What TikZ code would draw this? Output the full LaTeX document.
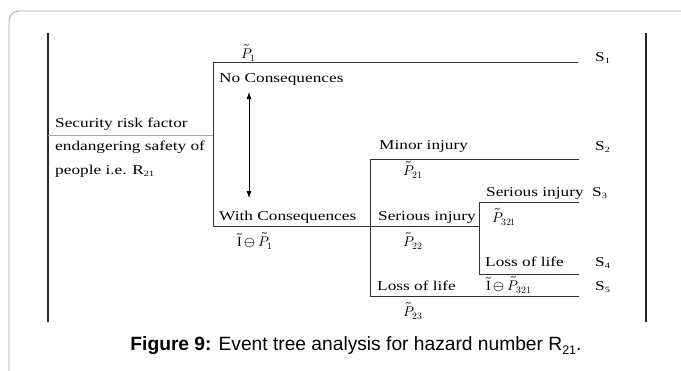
\documentclass[tikz,border=0pt]{standalone}
\usepackage{fontspec}
\usepackage{unicode-math}
\setmathfont{Latin Modern Math}
\usetikzlibrary{arrows.meta}
\setmainfont{Liberation Serif}
\newfontfamily\treefont[FakeStretch=1.28]{Liberation Serif}
\newfontfamily\capfont{Liberation Sans}
\newcommand{\sub}[1]{\raisebox{-2pt}{\fontsize{8}{8}\selectfont #1}}
\begin{document}
\begin{tikzpicture}[x=1pt,y=-1pt,
  lbl/.style={anchor=base west,inner sep=0pt,font=\treefont\fontsize{13.5}{15}\selectfont},
  prob/.style={anchor=base west,inner sep=0pt,font=\fontsize{14}{16}\selectfont},
  branch/.style={draw=black!80,line width=0.8pt},
  frame/.style={draw=black!85,line width=1.1pt}]
\useasboundingbox (0,0) rectangle (681,370);
% outer panel
\draw[black!35,line width=0.8pt,rounded corners=10pt] (9,11) rectangle (700,390);
% side rules of the table
\draw[frame] (48,33) -- (48,322);
\draw[frame] (646,33) -- (646,322);
% initiating event
\node[lbl] (e1) at (55,127) {Security risk factor};
\node[lbl] (e2) at (55,150) {endangering safety of};
\node[lbl] (e3) at (55,174) {people i.e. R\sub{21}};
\coordinate (g0) at (48,135);
\coordinate (a) at (213,135);
\draw[black!35,line width=0.8pt] (g0) -- (a);
% first branching
\coordinate (a1) at (213,62);
\coordinate (a2) at (213,226);
\coordinate (s1end) at (578,62);
\coordinate (b) at (370,226);
\coordinate (c) at (479,226);
\draw[branch] (s1end) -- (a1) -- (a2) -- (c);
\node[prob] (p1) at (241,58) {$\tilde{P}_{1}$};
\node[lbl] (s1) at (595,61) {S\sub{1}};
\node[lbl] (nc) at (219,82) {No Consequences};
\node[lbl] (wc) at (219,220) {With Consequences};
\node[prob] (q1) at (237,246) {$\tilde{\mathrm{I}}\ominus\tilde{P}_{1}$};
\coordinate (arrT) at (249,92);
\coordinate (arrB) at (249,198);
\draw[black,line width=0.8pt,{Latex[length=7pt,width=5pt]}-{Latex[length=7pt,width=5pt]}] (arrT) -- (arrB);
% second branching
\coordinate (b1) at (370,159);
\coordinate (b3) at (370,296);
\coordinate (s2end) at (579,159);
\coordinate (s5end) at (579,296);
\draw[branch] (s2end) -- (b1) -- (b3) -- (s5end);
\node[lbl] (mi) at (379,149) {Minor injury};
\node[prob] (p21) at (403,175) {$\tilde{P}_{21}$};
\node[lbl] (si) at (378,220) {Serious injury};
\node[prob] (p22) at (403,246) {$\tilde{P}_{22}$};
\node[lbl] (ll) at (377,290) {Loss of life};
\node[prob] (p23) at (403,316) {$\tilde{P}_{23}$};
% third branching
\coordinate (c1) at (479,202);
\coordinate (c2) at (479,274);
\coordinate (s3end) at (579,202);
\coordinate (s4end) at (579,274);
\draw[branch] (s3end) -- (c1) -- (c2) -- (s4end);
\node[lbl] (si2) at (486,196) {Serious injury};
\node[prob] (p321) at (492,222) {$\tilde{P}_{321}$};
\node[lbl] (ll2) at (485,266) {Loss of life};
\node[prob] (q321) at (486,290) {$\tilde{\mathrm{I}}\ominus\tilde{P}_{321}$};
% outcomes
\node[lbl] (s2) at (595,150) {S\sub{2}};
\node[lbl] (s3) at (592,196) {S\sub{3}};
\node[lbl] (s4) at (595,266) {S\sub{4}};
\node[lbl] (s5) at (595,290) {S\sub{5}};
% caption
\node[anchor=base,inner sep=0pt,font=\capfont\fontsize{19.2}{21}\selectfont] (cap) at (356,350)
  {\textbf{Figure 9:} Event tree analysis for hazard number R\raisebox{-4pt}{\fontsize{12.5}{12.5}\selectfont 21}.};
\end{tikzpicture}
\end{document}
